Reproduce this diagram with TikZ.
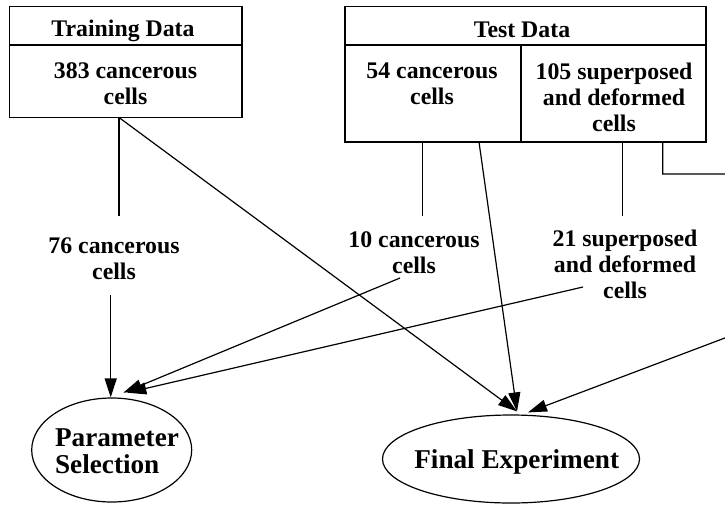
\documentclass[tikz,border=0pt]{standalone}
\usepackage{fontspec}
\setmainfont{Liberation Serif}
\usetikzlibrary{arrows.meta,shapes.geometric,calc}
\begin{document}
\begin{tikzpicture}[x=1pt,y=-1pt,
  ln/.style={line width=1.2pt},
  cell/.style={draw,ln,rectangle,inner sep=0pt},
  txt/.style={inner sep=0pt,align=center,font=\fontsize{23.8}{26.3}\selectfont\bfseries},
  big/.style={inner sep=0pt,font=\fontsize{27.2}{27.7}\selectfont\bfseries},
  oval/.style={draw,ln,ellipse,inner sep=0pt},
  arr/.style={ln,-{Triangle[length=19pt,width=12pt]}}]
\useasboundingbox (0,0) rectangle (725,504);
\clip (0,0) rectangle (725,504);
% boxes
\node[cell,minimum width=232.5pt,minimum height=38.5pt] (trainHead) at (125.75,25.75) {};
\node[cell,minimum width=232.5pt,minimum height=72.5pt] (trainBody) at (125.75,81.25) {};
\node[cell,minimum width=361pt,minimum height=38.5pt] (testHead) at (525.5,25.75) {};
\node[cell,minimum width=176pt,minimum height=97pt] (testLeft) at (433,93.5) {};
\node[cell,minimum width=185pt,minimum height=97pt] (testRight) at (613.5,93.5) {};
% box texts
\node[txt,anchor=base] (tTrain) at (123,36.5) {Training Data};
\node[txt,anchor=base] (tTest) at (522,37) {Test Data};
\node[txt] (t383) at (125.5,84) {383 cancerous\\cells};
\node[txt] (t54) at (432,84) {54 cancerous\\cells};
\node[txt] (t105) at (614,97.2) {105 superposed\\and deformed\\cells};
% labels
\node[txt] (l76) at (114,258.7) {76 cancerous\\cells};
\node[txt] (l10) at (414,252.8) {10 cancerous\\cells};
\node[txt] (l21) at (625,264.2) {21 superposed\\and deformed\\cells};
% ellipses
\node[oval,minimum width=160pt,minimum height=104pt] (ps) at (111.7,450) {};
\node[big,align=left] (pst) at (117,451.3) {Parameter\\Selection};
\node[oval,minimum width=257pt,minimum height=88pt] (fe) at (511,459) {};
\node[big,anchor=base] (fet) at (516.7,468.3) {Final Experiment};
% connector coordinates
\coordinate (a1) at (119,117.5);
\coordinate (a2) at (119,216);
\coordinate (b1) at (422.7,142);
\coordinate (b2) at (422.7,216);
\coordinate (b3) at (479,142);
\coordinate (c1) at (622.7,142);
\coordinate (c2) at (622.7,216);
\coordinate (c3) at (662.7,142);
\coordinate (c4) at (760,174);
\coordinate (c5) at (760,324.7);
\coordinate (d76) at (110.7,295);
\coordinate (d10) at (400,278);
\coordinate (d21) at (583,287);
% connectors
\draw[ln] (a1) -- (a2);
\draw[arr] (a1) -- ($(fe.north)+(6,-3)$);
\draw[arr] (d76) -- (d76 |- ps.north);
\draw[ln] (b1) -- (b2);
\draw[arr] (b3) -- ($(fe.north)+(6,-3)$);
\draw[ln] (c1) -- (c2);
\draw[arr] (c3) |- (c4) -- (c5) -- ($(fe.north)+(17,-2)$);
\draw[arr] (d10) -- ($(ps.north)+(11.6,-4.7)$);
\draw[arr] (d21) -- ($(ps.north)+(15.6,-4.7)$);
\end{tikzpicture}
\end{document}
